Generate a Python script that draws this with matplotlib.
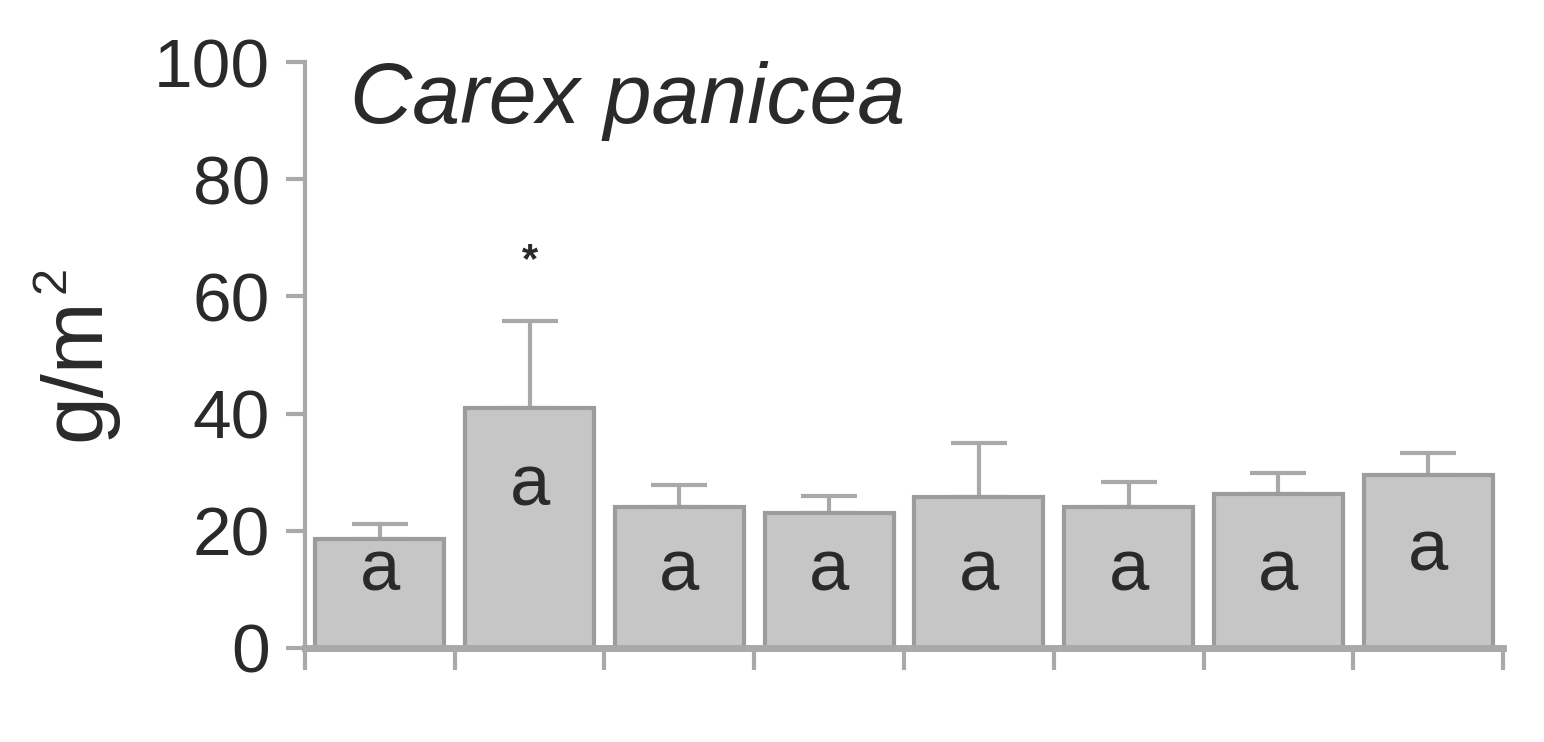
import numpy as np
import matplotlib
matplotlib.use("Agg")
import matplotlib.pyplot as plt

plt.rcParams['font.family'] = ['Liberation Sans', 'DejaVu Sans']

# values
means = [18.6, 40.9, 24.1, 23.0, 25.7, 24.0, 26.3, 29.6]
err_top = [21.2, 55.8, 27.8, 25.9, 35.0, 28.4, 29.9, 33.3]
letters = ["a", "a", "a", "a", "a", "a", "a", "a"]
letter_y = [13.0, 27.5, 13.0, 13.0, 13.0, 13.0, 13.0, 16.4]
star_bar = 1
star_y = 66.0
yticks = [0, 20, 40, 60, 80, 100]

axis_col = "#a9a9a9"
fill_col = "#c6c6c6"
edge_col = "#9c9c9c"
text_col = "#2a2a2a"

fig = plt.figure(figsize=(15.44, 7.42), dpi=100)
ax = fig.add_axes([0.1975, 0.1267, 0.776, 0.7897])

x = np.arange(len(means)) + 0.5
errs = np.array(err_top) - np.array(means)
ax.bar(x, means, width=0.86, color=fill_col, edgecolor=edge_col, linewidth=3, zorder=2)
ax.errorbar(x, means, yerr=[np.zeros_like(errs), errs], fmt="none",
            ecolor=axis_col, elinewidth=3, capsize=20, capthick=3, zorder=1)

for xi, lab, ly in zip(x, letters, letter_y):
    ax.text(xi, ly, lab, ha="center", va="center", fontsize=52, color=text_col, zorder=3)
ax.text(x[star_bar], star_y, "*", ha="center", va="center", fontsize=30,
        color=text_col, fontweight="bold")

ax.text(0.3, 93.3, "Carex panicea", fontsize=62, style="italic", color=text_col,
        ha="left", va="center")

ax.set_xlim(0, len(means))
ax.set_ylim(0, 100)
ax.set_yticks(yticks)
ax.set_xticks(np.arange(len(means) + 1))
ax.set_xticklabels([])

# y label with a small superscript
fig.text(0.050, 0.503, "g/m", rotation=90, fontsize=62, color=text_col,
         ha="center", va="center")
fig.text(0.034, 0.623, "2", rotation=90, fontsize=35, color=text_col,
         ha="center", va="center")

for s in ["top", "right"]:
    ax.spines[s].set_visible(False)
ax.spines["left"].set_color(axis_col)
ax.spines["left"].set_linewidth(3)
ax.spines["bottom"].set_color(axis_col)
ax.spines["bottom"].set_linewidth(5)
ax.tick_params(axis="y", length=14, width=3, color=axis_col, pad=11,
               labelsize=50, labelcolor=text_col)
ax.tick_params(axis="x", length=16, width=3, color=axis_col)

plt.savefig("out.png", dpi=100)
